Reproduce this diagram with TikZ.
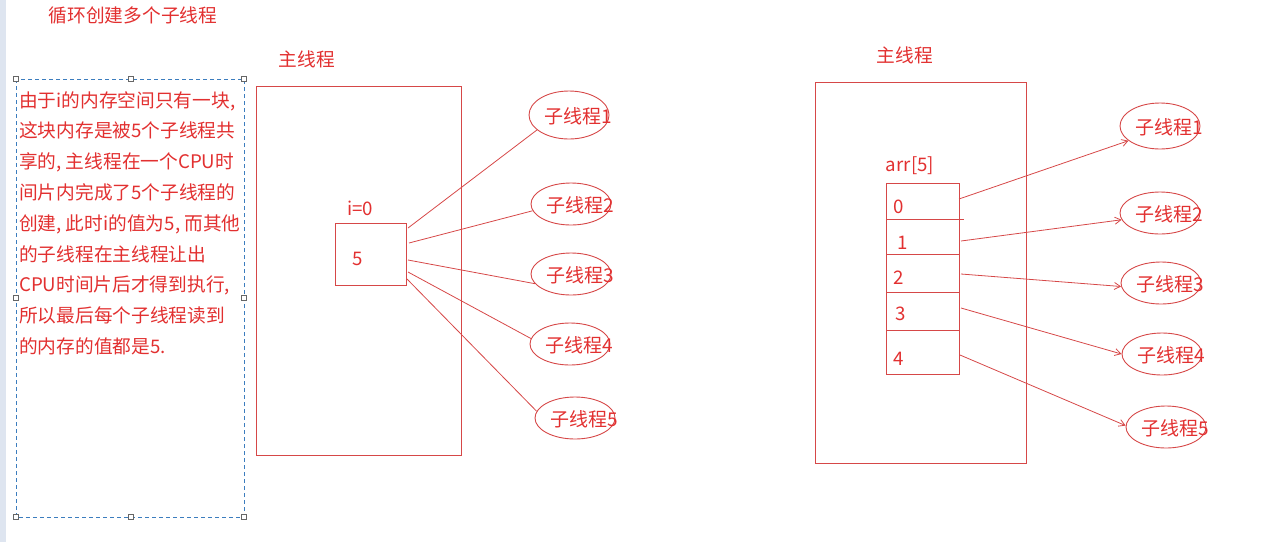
\documentclass[tikz,border=0pt]{standalone}
\usepackage{fontspec}
\setmainfont{Noto Sans CJK SC}
\usetikzlibrary{arrows.meta,shapes.geometric}
\definecolor{txtred}{RGB}{226,48,48}
\definecolor{linered}{RGB}{214,72,72}
\definecolor{selblue}{RGB}{60,125,190}
\definecolor{stripgray}{RGB}{222,229,240}
\tikzset{
  every node/.style={font=\fontsize{18.7}{20}\selectfont, text=txtred, inner sep=0pt},
  frame/.style={draw=linered, line width=1pt},
  thr/.style={ellipse, draw=linered, line width=0.9pt, minimum width=80pt, minimum height=42pt},
  link/.style={draw=linered, line width=0.8pt},
  arrlink/.style={draw=linered, line width=0.8pt, -{Straight Barb[length=6pt,width=7pt]}},
  handle/.style={draw=gray!80!black, fill=white, line width=0.7pt, minimum size=5pt, rectangle},
  thrtext/.style={font=\fontsize{19}{20}\selectfont},
}
\begin{document}
\begin{tikzpicture}[x=1pt,y=-1pt]
\useasboundingbox (0,0) rectangle (1272,542);
\fill[stripgray] (0,0) rectangle (6,542);

% title
\node (title) at (133,15) {循环创建多个子线程};

% selection box with text
\draw[selblue, line width=0.9pt, dash pattern=on 4pt off 3pt] (16,79) rectangle (244,517);
\foreach \p/\n in {{16,79}/h1,{131,79}/h2,{244,79}/h3,{16,298}/h4,{244,298}/h5,{16,517}/h6,{131,517}/h7,{244,517}/h8}
  \node[handle] (\n) at (\p) {};
\node[anchor=north west, align=left, font=\fontsize{18.7}{30.8}\selectfont] (expl) at (19,91) {%
由于i的内存空间只有一块,\\
这块内存是被5个子线程共\\
享的, 主线程在一个CPU时\\
间片内完成了5个子线程的\\
创建, 此时i的值为5, 而其他\\
的子线程在主线程让出\\
CPU时间片后才得到执行,\\
所以最后每个子线程读到\\
的内存的值都是5.};

% ---------- left main thread ----------
\node (mainL) at (307,59) {主线程};
\draw[frame] (256,86) rectangle (461,455);
\node (ilabel) at (360,208) {i=0};
\draw[frame] (335,223) rectangle (406,285);
\node (ival) at (358,259) {5};
\coordinate (s1) at (408,228);
\coordinate (s2) at (409,243);
\coordinate (s3) at (408,260);
\coordinate (s4) at (408,272);
\coordinate (s5) at (407,279);

\node[thr, minimum height=48pt] (l1) at (569,115) {};
\node[thr] (l2) at (571,204) {};
\node[thr] (l3) at (571,274) {};
\node[thr] (l4) at (570,344) {};
\node[thr] (l5) at (575,418) {};
\foreach \k in {1,...,5}
  \node[thrtext] (lt\k) at ([xshift=9pt,yshift=-1pt]l\k.center) {子线程\k};

\draw[link] (s1) -- (l1.205);
\draw[link] (s2) -- (l2.190);
\draw[link] (s3) -- (l3.195);
\draw[link] (s4) -- (l4.172);
\draw[link] (s5) -- (l5.170);

% ---------- right main thread ----------
\node (mainR) at (905,55) {主线程};
\draw[frame] (815,82) rectangle (1026,463);
\node (arrlabel) at (910,166) {arr[5]};
\draw[frame] (886,183) rectangle (959,374);
\draw[frame] (886,219) -- (964,219);
\draw[frame] (886,254) -- (959,254);
\draw[frame] (886,292) -- (959,292);
\draw[frame] (886,330) -- (959,330);
\node (a0) at (899,207) {0};
\node (a1) at (903,243) {1};
\node (a2) at (899,278) {2};
\node (a3) at (901,314) {3};
\node (a4) at (899,359) {4};
\coordinate (r1) at (959,199);
\coordinate (r2) at (961,241);
\coordinate (r3) at (961,274);
\coordinate (r4) at (961,308);
\coordinate (r5) at (960,355);

\node[thr, minimum height=46pt] (e1) at (1160,126) {};
\node[thr] (e2) at (1160,213) {};
\node[thr] (e3) at (1161,283) {};
\node[thr] (e4) at (1162,354) {};
\node[thr] (e5) at (1166,427) {};
\foreach \k in {1,...,5}
  \node[thrtext] (et\k) at ([xshift=9pt,yshift=-1pt]e\k.center) {子线程\k};

\draw[arrlink] (r1) -- (e1.205);
\draw[arrlink] (r2) -- (e2.190);
\draw[arrlink] (r3) -- (e3.185);
\draw[arrlink] (r4) -- (e4.180);
\draw[arrlink] (r5) -- (e5.178);
\end{tikzpicture}
\end{document}
